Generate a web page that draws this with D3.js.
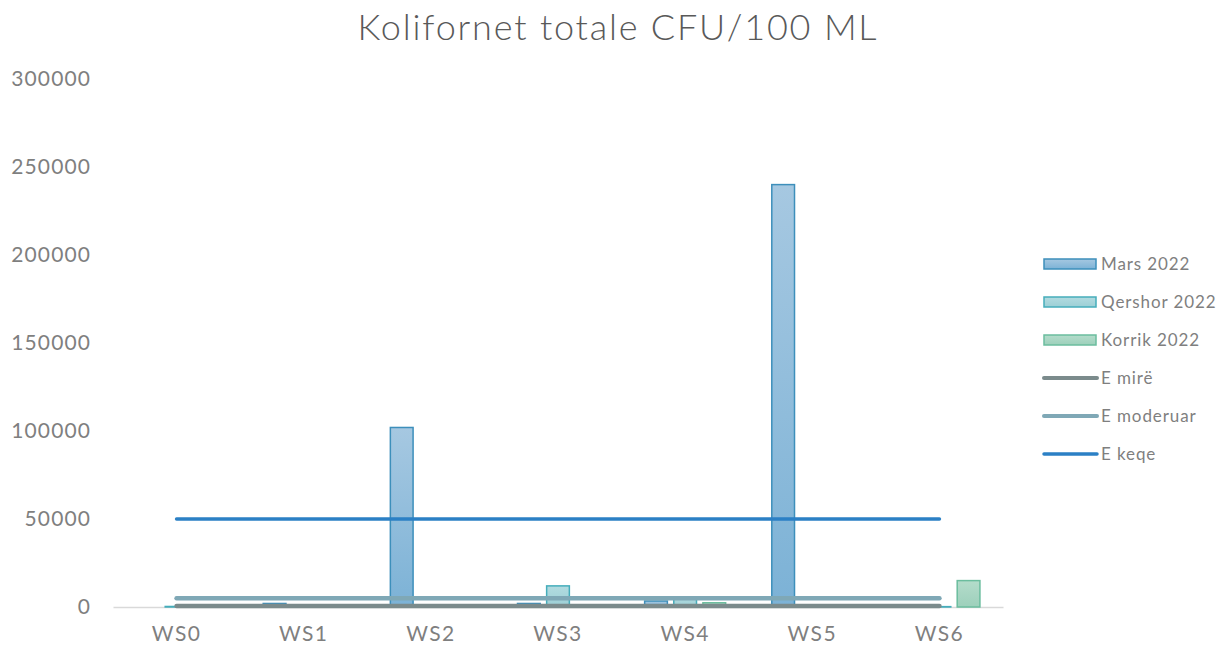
<!DOCTYPE html>
<html>
<head>
<meta charset="utf-8">
<script src="https://cdn.jsdelivr.net/npm/d3@7"></script>
<style>
  body { margin: 0; background: #fff; }
  svg text { font-family: "Lato", "Open Sans", sans-serif; }
</style>
</head>
<body>
<div id="chart"></div>
<script>
const categories = ["WS0", "WS1", "WS2", "WS3", "WS4", "WS5", "WS6"];
const seriesNames = ["Mars 2022", "Qershor 2022", "Korrik 2022"];
const mars = [0, 2000, 102000, 2000, 3400, 240000, 0];
const qershor = [300, 0, 0, 12000, 5500, 0, 200];
const korrik = [0, 0, 0, 0, 2400, 0, 15000];
const limitNames = ["E mirë", "E moderuar", "E keqe"];
const limitValues = [500, 5000, 50000];
const yTicks = [0, 50000, 100000, 150000, 200000, 250000, 300000];

const barColors = [
  { top: "#a6c8e1", bottom: "#7cb2d6", stroke: "#3d8fbb" },
  { top: "#b2dbe0", bottom: "#9ccfd5", stroke: "#45adbb" },
  { top: "#b4dccb", bottom: "#9dd0bb", stroke: "#6bbd9e" }
];
const lineColors = ["#7b8b8c", "#7fa8b6", "#2b80c5"];

const W = 1226, H = 652;
const plot = { left: 113, right: 1003, top: 79, bottom: 607 };

const svg = d3.select("#chart").append("svg")
  .attr("width", W).attr("height", H);

const defs = svg.append("defs");
barColors.forEach((c, i) => {
  const g = defs.append("linearGradient").attr("id", "grad" + i)
    .attr("x1", 0).attr("y1", 0).attr("x2", 0).attr("y2", 1);
  g.append("stop").attr("offset", "0%").attr("stop-color", c.top);
  g.append("stop").attr("offset", "100%").attr("stop-color", c.bottom);
});

const x = d3.scaleBand().domain(categories).range([plot.left, plot.right]);
const xInner = d3.scaleBand().domain(seriesNames)
  .range([-40.5, 40.5]).paddingInner(0.22);
const y = d3.scaleLinear().domain([0, 300000]).range([plot.bottom, plot.top]);

// title
svg.append("text")
  .attr("x", 618).attr("y", 40)
  .attr("text-anchor", "middle")
  .attr("font-size", 36)
  .attr("font-weight", 300)
  .attr("letter-spacing", 1.8)
  .attr("fill", "#595959")
  .text("Kolifornet totale CFU/100 ML");

// y axis labels
const yAxis = svg.append("g")
  .attr("transform", `translate(${plot.left - 22},0)`)
  .call(d3.axisLeft(y).tickValues(yTicks).tickSize(0).tickPadding(0).tickFormat(d3.format("d")));
yAxis.select(".domain").remove();
yAxis.selectAll("text").attr("font-size", 21).attr("fill", "#7f7f7f")
  .attr("letter-spacing", 1.1)
  .style("font-family", "Lato, 'Open Sans', sans-serif");

// x axis
const xAxis = svg.append("g")
  .attr("transform", `translate(0,${plot.bottom})`)
  .call(d3.axisBottom(x).tickSize(0).tickPadding(19));
xAxis.select(".domain").attr("stroke", "#d9d9d9").attr("stroke-width", 1.5);
xAxis.selectAll("text").attr("font-size", 21).attr("fill", "#7f7f7f")
  .attr("letter-spacing", 1.4)
  .style("font-family", "Lato, 'Open Sans', sans-serif");

// bars
const seriesData = [mars, qershor, korrik];
seriesData.forEach((vals, si) => {
  svg.append("g").selectAll("rect")
    .data(vals.map((v, i) => ({ cat: categories[i], v })))
    .join("rect")
    .filter(d => d.v > 0)
    .attr("x", d => x(d.cat) + x.bandwidth() / 2 + xInner(seriesNames[si]))
    .attr("width", xInner.bandwidth())
    .attr("y", d => y(d.v))
    .attr("height", d => y(0) - y(d.v))
    .attr("fill", `url(#grad${si})`)
    .attr("stroke", barColors[si].stroke)
    .attr("stroke-width", 1.5);
});

// limit lines
const line = d3.line().x(d => x(d.cat) + x.bandwidth() / 2).y(d => y(d.v));
limitValues.forEach((lv, li) => {
  svg.append("path")
    .datum(categories.map(c => ({ cat: c, v: lv })))
    .attr("fill", "none")
    .attr("stroke", lineColors[li])
    .attr("stroke-width", li === 2 ? 3.5 : 4.5)
    .attr("stroke-linecap", "round")
    .attr("d", line);
});

// legend
const legend = svg.append("g").attr("transform", "translate(1043,264)");
const items = seriesNames.map((n, i) => ({ name: n, type: "bar", i }))
  .concat(limitNames.map((n, i) => ({ name: n, type: "line", i })));
items.forEach((it, k) => {
  const g = legend.append("g").attr("transform", `translate(0,${k * 38})`);
  if (it.type === "bar") {
    g.append("rect").attr("x", 1).attr("y", -5).attr("width", 52).attr("height", 10)
      .attr("fill", `url(#grad${it.i})`)
      .attr("stroke", barColors[it.i].stroke).attr("stroke-width", 1.5);
  } else {
    g.append("line").attr("x1", 1).attr("x2", 54).attr("y1", 0).attr("y2", 0)
      .attr("stroke", lineColors[it.i]).attr("stroke-width", it.i === 2 ? 3.5 : 4)
      .attr("stroke-linecap", "round");
  }
  g.append("text").attr("x", 58).attr("y", 0).attr("dy", "0.35em")
    .attr("font-size", 17).attr("letter-spacing", 0.9).attr("fill", "#7f7f7f").text(it.name);
});
</script>
</body>
</html>
